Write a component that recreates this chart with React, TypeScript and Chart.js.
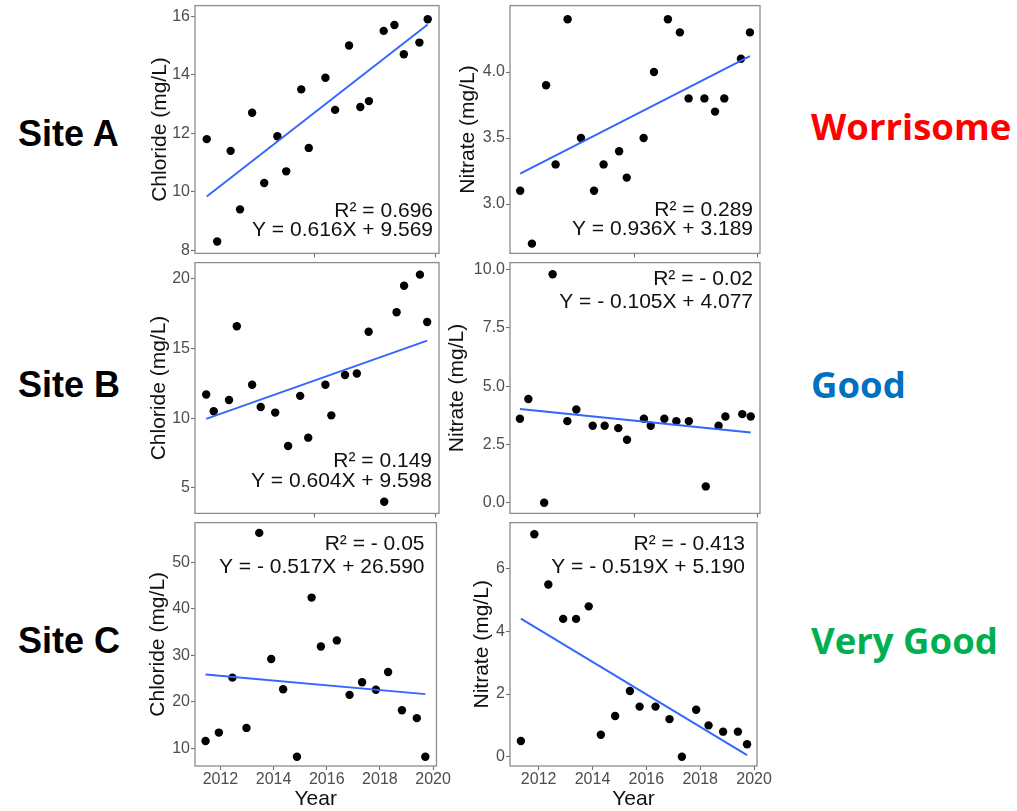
import React, { useEffect, useRef } from 'react';
import { Chart, registerables } from 'chart.js';

Chart.register(...registerables);

const SANS = '"Liberation Sans", Arial, Helvetica, sans-serif';
const LABEL_FONT = '"Open Sans", "Liberation Sans", Arial, sans-serif';

// ---------- Site A ----------
const siteAChlorideYears = [2011.48, 2011.87, 2012.37, 2012.72, 2013.17, 2013.62, 2014.11, 2014.44, 2015.0, 2015.28, 2015.9, 2016.26, 2016.78, 2017.2, 2017.52, 2018.07, 2018.47, 2018.82, 2019.4, 2019.71];
const siteAChloride = [11.8, 8.3, 11.4, 9.4, 12.7, 10.3, 11.9, 10.7, 13.5, 11.5, 13.9, 12.8, 15.0, 12.9, 13.1, 15.5, 15.7, 14.7, 15.1, 15.9];
const siteAChlorideFit = [9.84, 15.72];

const siteANitrateYears = [2011.31, 2011.74, 2012.26, 2012.61, 2013.05, 2013.54, 2014.02, 2014.37, 2014.94, 2015.22, 2015.84, 2016.22, 2016.73, 2017.17, 2017.49, 2018.07, 2018.46, 2018.8, 2019.41, 2019.74];
const siteANitrate = [3.1, 2.7, 3.9, 3.3, 4.4, 3.5, 3.1, 3.3, 3.4, 3.2, 3.5, 4.0, 4.4, 4.3, 3.8, 3.8, 3.7, 3.8, 4.1, 4.3];
const siteANitrateFit = [3.23, 4.12];

// ---------- Site B ----------
const siteBChlorideYears = [2011.46, 2011.74, 2012.31, 2012.6, 2013.17, 2013.49, 2014.03, 2014.51, 2014.96, 2015.26, 2015.9, 2016.12, 2016.63, 2017.07, 2017.51, 2018.09, 2018.55, 2018.83, 2019.42, 2019.69];
const siteBChloride = [11.7, 10.5, 11.3, 16.6, 12.4, 10.8, 10.4, 8.0, 11.6, 8.6, 12.4, 10.2, 13.1, 13.2, 16.2, 4.0, 17.6, 19.5, 20.3, 16.9];
const siteBChlorideFit = [9.95, 15.57];

const siteBNitrateYears = [2011.3, 2011.61, 2012.19, 2012.5, 2013.04, 2013.37, 2013.97, 2014.41, 2014.91, 2015.23, 2015.85, 2016.1, 2016.6, 2017.04, 2017.5, 2018.12, 2018.59, 2018.84, 2019.46, 2019.77];
const siteBNitrate = [3.6, 4.45, 0.0, 9.8, 3.5, 4.0, 3.3, 3.3, 3.2, 2.7, 3.6, 3.3, 3.6, 3.5, 3.5, 0.7, 3.3, 3.7, 3.8, 3.7];
const siteBNitrateFit = [4.02, 3.01];

// ---------- Site C ----------
const siteCChlorideYears = [2011.44, 2011.94, 2012.45, 2012.98, 2013.46, 2013.91, 2014.36, 2014.88, 2015.43, 2015.78, 2016.38, 2016.86, 2017.33, 2017.85, 2018.31, 2018.83, 2019.39, 2019.71];
const siteCChloride = [11.6, 13.4, 25.2, 14.4, 56.3, 29.2, 22.7, 8.2, 42.4, 31.9, 33.2, 21.5, 24.2, 22.6, 26.4, 18.2, 16.5, 8.2];
const siteCChlorideFit = [25.87, 21.65];

const siteCNitrateYears = [2011.34, 2011.84, 2012.36, 2012.91, 2013.39, 2013.86, 2014.31, 2014.84, 2015.39, 2015.75, 2016.34, 2016.86, 2017.32, 2017.85, 2018.31, 2018.85, 2019.4, 2019.74];
const siteCNitrate = [0.5, 7.1, 5.5, 4.4, 4.4, 4.8, 0.7, 1.3, 2.1, 1.6, 1.6, 1.2, 0.0, 1.5, 1.0, 0.8, 0.8, 0.4];
const siteCNitrateFit = [4.41, 0.05];

// ---------- Axis ticks ----------
const yearTicks = [2012, 2014, 2016, 2018, 2020];
const yearTickLabels = ['2012', '2014', '2016', '2018', '2020'];
const upperYearTicks = [2015.5, 2020];

const chlorideTicksA = [8, 10, 12, 14, 16];
const chlorideTicksB = [5, 10, 15, 20];
const chlorideTicksC = [10, 20, 30, 40, 50];
const nitrateTicksA = [3.0, 3.5, 4.0];
const nitrateLabelsA = ['3.0', '3.5', '4.0'];
const nitrateTicksB = [0, 2.5, 5, 7.5, 10];
const nitrateLabelsB = ['0.0', '2.5', '5.0', '7.5', '10.0'];
const nitrateTicksC = [0, 2, 4, 6];

// ---------- Fit statistics ----------
const statsAChloride = ['R\u00B2 = 0.696', 'Y = 0.616X + 9.569'];
const statsANitrate = ['R\u00B2 = 0.289', 'Y = 0.936X + 3.189'];
const statsBChloride = ['R\u00B2 = 0.149', 'Y = 0.604X + 9.598'];
const statsBNitrate = ['R\u00B2 = - 0.02', 'Y = - 0.105X + 4.077'];
const statsCChloride = ['R\u00B2 = - 0.05', 'Y = - 0.517X + 26.590'];
const statsCNitrate = ['R\u00B2 = - 0.413', 'Y = - 0.519X + 5.190'];

const CHLORIDE_TITLE = 'Chloride (mg/L)';
const NITRATE_TITLE = 'Nitrate (mg/L)';

type Box = { left: number; top: number; width: number; height: number };

type PanelSpec = {
  box: Box;
  padLeft: number;
  padBottom: number;
  years: number[];
  values: number[];
  fit: number[];
  xRange: [number, number];
  yRange: [number, number];
  yTicks: number[];
  yTickLabels: string[];
  yTitle: string;
  yTitlePad: number;
  xTicks: number[];
  xTickLabels: string[] | null;
  xTitlePad: number;
  stats: string[];
  statsAnchor: 'top' | 'bottom';
  statsOffsets: number[];
  statsInset: number;
};

const PAD_TOP = 10;
const PAD_RIGHT = 12;
const LEFT_X: [number, number] = [2011.043, 2020.13];
const RIGHT_X: [number, number] = [2010.936, 2020.11];

const framePlugin = {
  id: 'panelFrame',
  afterDatasetsDraw(chart: any, _args: any, opts: any) {
    const { ctx, chartArea: a } = chart;
    ctx.save();
    ctx.strokeStyle = '#8c8c8c';
    ctx.lineWidth = 1.3;
    ctx.strokeRect(a.left, a.top, a.right - a.left, a.bottom - a.top);
    ctx.fillStyle = '#111';
    ctx.font = `21px ${SANS}`;
    ctx.textAlign = 'right';
    ctx.textBaseline = 'middle';
    (opts.lines as string[]).forEach((line: string, i: number) => {
      const off = opts.offsets[i];
      const y = opts.anchor === 'top' ? a.top + off : a.bottom - off;
      ctx.fillText(line, a.right - opts.inset, y);
    });
    ctx.restore();
  },
};

function ScatterPanel({ spec }: { spec: PanelSpec }) {
  const ref = useRef<HTMLCanvasElement | null>(null);
  const w = spec.padLeft + spec.box.width + PAD_RIGHT;
  const h = PAD_TOP + spec.box.height + spec.padBottom;

  useEffect(() => {
    const canvas = ref.current;
    if (!canvas) return;
    const fitYears = [spec.years[0], spec.years[spec.years.length - 1]];
    const tickFont = { family: SANS, size: 16 };
    const chart = new Chart(canvas, {
      type: 'scatter',
      data: {
        datasets: [
          {
            label: 'trend',
            data: fitYears.map((x, i) => ({ x, y: spec.fit[i] })),
            showLine: true,
            borderColor: '#3366FF',
            backgroundColor: '#3366FF',
            borderWidth: 1.9,
            pointRadius: 0,
            order: 0,
          },
          {
            label: 'samples',
            data: spec.years.map((x, i) => ({ x, y: spec.values[i] })),
            backgroundColor: '#000',
            borderColor: '#000',
            borderWidth: 0,
            pointRadius: 4.2,
            order: 1,
          },
        ],
      },
      options: {
        animation: false,
        responsive: false,
        maintainAspectRatio: false,
        events: [],
        layout: { padding: { top: PAD_TOP, right: PAD_RIGHT, left: 0, bottom: 0 }, autoPadding: false },
        plugins: {
          legend: { display: false },
          tooltip: { enabled: false },
          panelFrame: {
            lines: spec.stats,
            anchor: spec.statsAnchor,
            offsets: spec.statsOffsets,
            inset: spec.statsInset,
          },
        } as any,
        scales: {
          x: {
            type: 'linear',
            min: spec.xRange[0],
            max: spec.xRange[1],
            afterBuildTicks: (s: any) => {
              s.ticks = spec.xTicks.map((v) => ({ value: v }));
            },
            afterFit: (s: any) => {
              s.height = spec.padBottom;
            },
            grid: { display: true, drawOnChartArea: false, drawTicks: true, tickLength: 4, tickWidth: 1.1, tickColor: '#707070' },
            border: { display: false },
            ticks: {
              display: !!spec.xTickLabels,
              autoSkip: false,
              maxRotation: 0,
              padding: 0,
              color: '#4d4d4d',
              font: tickFont,
              callback: (_v: any, i: number) => (spec.xTickLabels ? spec.xTickLabels[i] : ''),
            },
            title: {
              display: !!spec.xTickLabels,
              text: 'Year',
              color: '#111',
              font: { family: SANS, size: 21 },
              padding: { top: 0, bottom: spec.xTitlePad },
            },
          },
          y: {
            type: 'linear',
            min: spec.yRange[0],
            max: spec.yRange[1],
            afterBuildTicks: (s: any) => {
              s.ticks = spec.yTicks.map((v) => ({ value: v }));
            },
            afterFit: (s: any) => {
              s.width = spec.padLeft;
            },
            grid: { display: true, drawOnChartArea: false, drawTicks: true, tickLength: 4, tickWidth: 1.1, tickColor: '#707070' },
            border: { display: false },
            ticks: {
              autoSkip: false,
              padding: 1,
              color: '#4d4d4d',
              font: tickFont,
              callback: (_v: any, i: number) => spec.yTickLabels[i],
            },
            title: {
              display: true,
              text: spec.yTitle,
              color: '#111',
              font: { family: SANS, size: 21 },
              padding: { top: spec.yTitlePad, bottom: 0 },
            },
          },
        },
      },
      plugins: [framePlugin],
    });
    return () => chart.destroy();
  }, [spec]);

  return (
    <canvas
      ref={ref}
      width={w}
      height={h}
      style={{ position: 'absolute', left: spec.box.left - spec.padLeft, top: spec.box.top - PAD_TOP, width: w, height: h }}
    />
  );
}

const LEFT_PAD = 60;
const RIGHT_PAD = 75;

const panels: PanelSpec[] = [
  {
    box: { left: 195, top: 5, width: 244, height: 249 },
    padLeft: LEFT_PAD, padBottom: 10,
    years: siteAChlorideYears, values: siteAChloride, fit: siteAChlorideFit,
    xRange: LEFT_X, yRange: [7.895, 16.364],
    yTicks: chlorideTicksA, yTickLabels: chlorideTicksA.map(String),
    yTitle: CHLORIDE_TITLE, yTitlePad: 12.5,
    xTicks: upperYearTicks, xTickLabels: null, xTitlePad: 0,
    stats: statsAChloride, statsAnchor: 'bottom', statsOffsets: [42.3, 23], statsInset: 6,
  },
  {
    box: { left: 510, top: 5, width: 250, height: 249 },
    padLeft: RIGHT_PAD, padBottom: 10,
    years: siteANitrateYears, values: siteANitrate, fit: siteANitrateFit,
    xRange: RIGHT_X, yRange: [2.626, 4.503],
    yTicks: nitrateTicksA, yTickLabels: nitrateLabelsA,
    yTitle: NITRATE_TITLE, yTitlePad: 20.5,
    xTicks: upperYearTicks, xTickLabels: null, xTitlePad: 0,
    stats: statsANitrate, statsAnchor: 'bottom', statsOffsets: [43.3, 24], statsInset: 7,
  },
  {
    box: { left: 195, top: 262, width: 244, height: 252 },
    padLeft: LEFT_PAD, padBottom: 10,
    years: siteBChlorideYears, values: siteBChloride, fit: siteBChlorideFit,
    xRange: LEFT_X, yRange: [3.164, 21.164],
    yTicks: chlorideTicksB, yTickLabels: chlorideTicksB.map(String),
    yTitle: CHLORIDE_TITLE, yTitlePad: 11.2,
    xTicks: upperYearTicks, xTickLabels: null, xTitlePad: 0,
    stats: statsBChloride, statsAnchor: 'bottom', statsOffsets: [52.3, 31.7], statsInset: 7,
  },
  {
    box: { left: 510, top: 262, width: 250, height: 252 },
    padLeft: RIGHT_PAD, padBottom: 10,
    years: siteBNitrateYears, values: siteBNitrate, fit: siteBNitrateFit,
    xRange: RIGHT_X, yRange: [-0.457, 10.299],
    yTicks: nitrateTicksB, yTickLabels: nitrateLabelsB,
    yTitle: NITRATE_TITLE, yTitlePad: 9.5,
    xTicks: upperYearTicks, xTickLabels: null, xTitlePad: 0,
    stats: statsBNitrate, statsAnchor: 'top', statsOffsets: [17, 39.7], statsInset: 7,
  },
  {
    box: { left: 195, top: 522, width: 244, height: 244 },
    padLeft: LEFT_PAD, padBottom: 48,
    years: siteCChlorideYears, values: siteCChloride, fit: siteCChlorideFit,
    xRange: LEFT_X, yRange: [6.22, 58.51],
    yTicks: chlorideTicksC, yTickLabels: chlorideTicksC.map(String),
    yTitle: CHLORIDE_TITLE, yTitlePad: 10.2,
    xTicks: yearTicks, xTickLabels: yearTickLabels, xTitlePad: 1.7,
    stats: statsCChloride, statsAnchor: 'top', statsOffsets: [21.3, 44.7], statsInset: 12,
  },
  {
    box: { left: 510, top: 522, width: 250, height: 244 },
    padLeft: RIGHT_PAD, padBottom: 48,
    years: siteCNitrateYears, values: siteCNitrate, fit: siteCNitrateFit,
    xRange: RIGHT_X, yRange: [-0.296, 7.474],
    yTicks: nitrateTicksC, yTickLabels: nitrateTicksC.map(String),
    yTitle: NITRATE_TITLE, yTitlePad: 34.5,
    xTicks: yearTicks, xTickLabels: yearTickLabels, xTitlePad: 1.7,
    stats: statsCNitrate, statsAnchor: 'top', statsOffsets: [21.3, 44.7], statsInset: 12,
  },
];

const siteNames = ['Site A', 'Site B', 'Site C'];
const siteNameRows = [133.5, 385, 641];
const ratings = ['Worrisome', 'Good', 'Very Good'];
const ratingColors = ['#FF0000', '#0070C0', '#00B050'];
const ratingRows = [126, 384, 640];

export default function App() {
  return (
    <div
      style={{
        position: 'absolute',
        left: 0,
        top: 0,
        width: 1017,
        height: 811,
        overflow: 'hidden',
        background: '#fff',
      }}
    >
      {panels.map((p, i) => (
        <ScatterPanel key={i} spec={p} />
      ))}
      {siteNames.map((name, i) => (
        <div
          key={name}
          style={{
            position: 'absolute',
            left: 18,
            top: siteNameRows[i],
            transform: 'translateY(-50%)',
            font: `bold 36px ${SANS}`,
            lineHeight: 1,
            color: '#000',
            whiteSpace: 'nowrap',
          }}
        >
          {name}
        </div>
      ))}
      {ratings.map((r, i) => (
        <div
          key={r}
          style={{
            position: 'absolute',
            left: 811,
            top: ratingRows[i],
            transform: 'translateY(-50%)',
            font: `bold 36.5px ${LABEL_FONT}`,
            lineHeight: 1,
            color: ratingColors[i],
            whiteSpace: 'nowrap',
          }}
        >
          {r}
        </div>
      ))}
    </div>
  );
}
